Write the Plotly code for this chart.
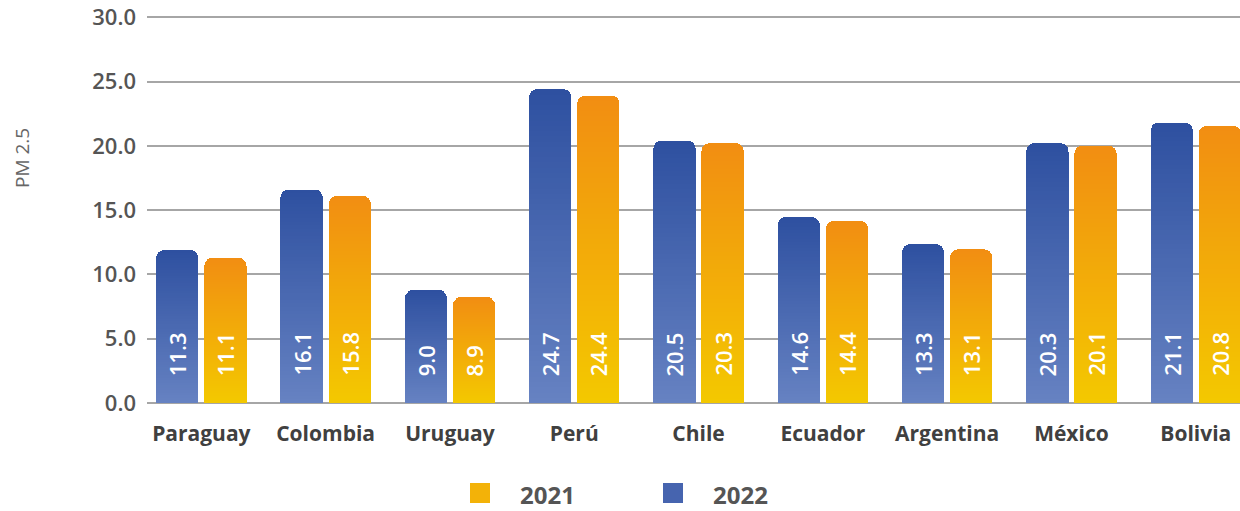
import plotly.graph_objects as go

countries = ["Paraguay", "Colombia", "Uruguay", "Perú", "Chile", "Ecuador", "Argentina", "México", "Bolivia"]
# printed value labels
labels_2022 = [11.3, 16.1, 9.0, 24.7, 20.5, 14.6, 13.3, 20.3, 21.1]
labels_2021 = [11.1, 15.8, 8.9, 24.4, 20.3, 14.4, 13.1, 20.1, 20.8]
# bar heights as drawn in the picture
bars_2022 = [11.9, 16.6, 8.8, 24.4, 20.4, 14.45, 12.35, 20.2, 21.8]
bars_2021 = [11.3, 16.1, 8.25, 23.9, 20.2, 14.15, 11.95, 20.0, 21.55]
y_ticks = [0, 5, 10, 15, 20, 25, 30]
series_names = ["2021", "2022"]

W, H = 1240, 511
ML, MR, MT, MB = 147, 0, 16, 108
PW, PH = W - ML - MR, H - MT - MB

BLUE_TOP, BLUE_BOT = (46, 80, 160), (102, 130, 194)
ORG_TOP, ORG_BOT = (242, 142, 18), (243, 200, 0)
N_SEG = 60
OFF, BW = 0.1935, 0.34


def mix(a, b, t):
    return "rgb(%d,%d,%d)" % tuple(round(a[i] + (b[i] - a[i]) * t) for i in range(3))


fig = go.Figure()


def add_series(values, offset, bot, top):
    xs = [i + offset for i in range(len(values))]
    for k in range(N_SEG):
        t = (k + 0.5) / N_SEG
        fig.add_trace(go.Bar(
            x=xs, y=[v / N_SEG for v in values], width=BW,
            marker=dict(color=mix(bot, top, t), line=dict(width=0)),
            showlegend=False, hoverinfo="skip"))


add_series(bars_2022, -OFF, BLUE_BOT, BLUE_TOP)
add_series(bars_2021, OFF, ORG_BOT, ORG_TOP)

annotations = []
for i in range(len(countries)):
    for off, lab in ((-OFF, labels_2022[i]), (OFF, labels_2021[i])):
        annotations.append(dict(
            x=i + off, y=0, xref="x", yref="y", text=f"{lab:.1f}",
            textangle=-90, showarrow=False, yanchor="bottom", xanchor="center",
            yshift=25, font=dict(family="Open Sans", size=22, color="white", weight=600)))


def px_x(px):
    return (px - ML) / PW


def px_y(py):
    return (MT + PH - py) / PH


# y-axis title
annotations.append(dict(
    x=px_x(22), y=px_y(158), xref="paper", yref="paper", text="PM 2.5",
    textangle=-90, showarrow=False, xanchor="center", yanchor="middle",
    font=dict(family="Open Sans", size=19, color="#666666")))

# manual legend
shapes = []
legend_items = [(series_names[0], 470, "rgb(243,178,8)"), (series_names[1], 663, "rgb(70,100,175)")]
for name, x0, col in legend_items:
    shapes.append(dict(type="rect", xref="paper", yref="paper",
                       x0=px_x(x0), x1=px_x(x0 + 20), y0=px_y(503), y1=px_y(483),
                       fillcolor=col, line=dict(width=0)))
    annotations.append(dict(
        x=px_x(x0 + 48), y=px_y(494), xref="paper", yref="paper", text=name,
        showarrow=False, xanchor="left", yanchor="middle",
        font=dict(family="Open Sans", size=24, color="#555555", weight="bold")))

fig.update_layout(
    width=W, height=H,
    margin=dict(l=ML, r=MR, t=MT, b=MB, pad=0, autoexpand=False),
    barmode="stack", barcornerradius=8,
    plot_bgcolor="white", paper_bgcolor="white",
    showlegend=False,
    annotations=annotations, shapes=shapes,
    xaxis=dict(range=[-0.437, 8.356], tickmode="array", tickvals=list(range(len(countries))),
               ticktext=countries, showgrid=False, zeroline=False, showline=False,
               ticks="", ticklabelstandoff=16, automargin=False,
               tickfont=dict(family="Open Sans", size=21, color="#404040", weight="bold")),
    yaxis=dict(range=[0, 30.1], tickmode="array", tickvals=y_ticks, tickformat=".1f",
               showgrid=True, gridcolor="#a6a6a6", gridwidth=1.5,
               zeroline=True, zerolinecolor="#a6a6a6", zerolinewidth=1.5,
               showline=False, ticks="", ticklabelstandoff=10, ticklabeloverflow="allow",
               automargin=False,
               tickfont=dict(family="Open Sans", size=22, color="#555555", weight=600)),
)

fig.write_html("out.html", config={"displayModeBar": False},
               post_script="document.body.style.margin='0';")
